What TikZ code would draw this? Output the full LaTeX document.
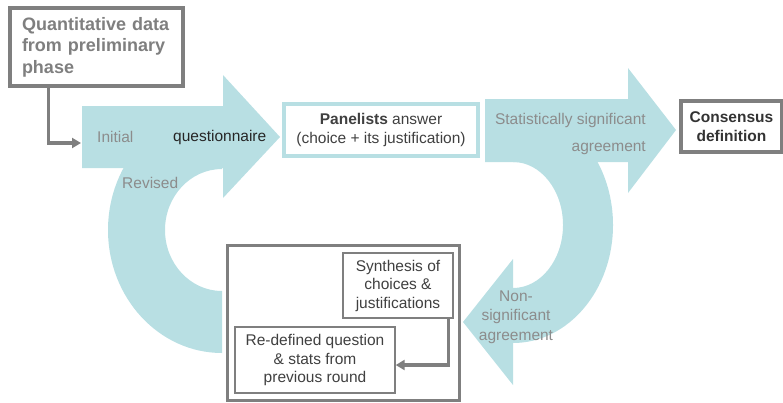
\documentclass[tikz,border=0pt]{standalone}
\usepackage{fontspec}
\setmainfont{Liberation Sans}
\usetikzlibrary{arrows.meta}
\definecolor{tealf}{RGB}{184,223,227}
\definecolor{boxgray}{RGB}{127,127,127}
\definecolor{lightt}{RGB}{140,140,140}
\definecolor{darkt}{RGB}{64,64,64}
\begin{document}
\begin{tikzpicture}[x=1pt,y=-1pt,
  txt/.style={font=\fontsize{15.5}{18.5}\selectfont, inner sep=0pt, align=center},
  lt/.style={txt, text=lightt},
  qbox/.style={draw=boxgray, line width=3.5pt, fill=white, text=boxgray,
    font=\bfseries\fontsize{18}{21.5}\selectfont, align=left, text width=149pt,
    inner xsep=12pt, inner ysep=0pt, minimum height=78pt},
  pbox/.style={txt, draw=tealf, line width=3.5pt, fill=white, text=darkt,
    minimum width=194pt, minimum height=52pt},
  cbox/.style={txt, draw=boxgray, line width=3.5pt, fill=white, text=black!80,
    font=\bfseries\fontsize{15.5}{18.5}\selectfont,
    minimum width=101pt, minimum height=51pt},
  obox/.style={draw=boxgray, line width=3pt, fill=white,
    minimum width=232pt, minimum height=155pt, inner sep=0pt},
  ibox/.style={txt, draw=boxgray, line width=1.4pt, fill=white, text=darkt},
  conn/.style={draw=boxgray, line width=3.2pt, -{Triangle[length=9pt,width=10pt]}}]
\useasboundingbox (0,0) rectangle (783,402);
% left arrow and loop
\fill[tealf] (82,106) -- (223,106) -- (223,75) -- (280,137) -- (223,198) -- (223,168) -- (82,168) -- cycle;
\fill[tealf] (222,107) arc[start angle=270, end angle=90, x radius=114, y radius=123]
  -- (222,291) arc[start angle=90, end angle=270, x radius=57, y radius=61] -- cycle;
% right arrow and loop
\fill[tealf] (485,99) -- (628,99) -- (628,68) -- (676,130) -- (628,193) -- (628,162) -- (485,162) -- cycle;
\fill[tealf] (513,107) arc[start angle=270, end angle=450, x radius=100, y radius=118]
  -- (513,288) arc[start angle=90, end angle=-90, x radius=50, y radius=63] -- cycle;
\fill[tealf] (513,259) -- (463,322) -- (513,385) -- cycle;
% boxes
\node[qbox] (q) at (96.5,47) {Quantitative data\\from preliminary\\phase};
\node[pbox] (p) at (381,130) {\textbf{Panelists} answer\\(choice + its justification)};
\node[cbox] (c) at (731.5,126.5) {Consensus\\definition};
\node[obox] (b) at (343,322.5) {};
\node[ibox, minimum width=110pt, minimum height=65pt] (s) at (398,285.5) {Synthesis of\\choices \&\\justifications};
\node[ibox, minimum width=160pt, minimum height=66pt] (r) at (315,360) {Re-defined question\\\& stats from\\previous round};
% labels
\node[lt, anchor=west] (ini) at (97,137) {Initial};
\node[txt, text=black!85, anchor=west] (qu) at (173,137) {questionnaire};
\node[lt, anchor=west] (rev) at (122,183) {Revised};
\node[lt, anchor=east] (ss) at (646,120) {Statistically significant};
\node[lt, anchor=east] (ag) at (646,148) {agreement};
\node[lt, font=\fontsize{15.5}{19.5}\selectfont] (ns) at (516,317) {Non-\\significant\\agreement};
% connectors
\coordinate (qin) at (81,143);
\draw[conn] ([xshift=40pt]q.south west) |- (qin);
\draw[conn] ([xshift=-5pt]s.south east) |- ([yshift=-5pt]r.east);
\end{tikzpicture}
\end{document}
